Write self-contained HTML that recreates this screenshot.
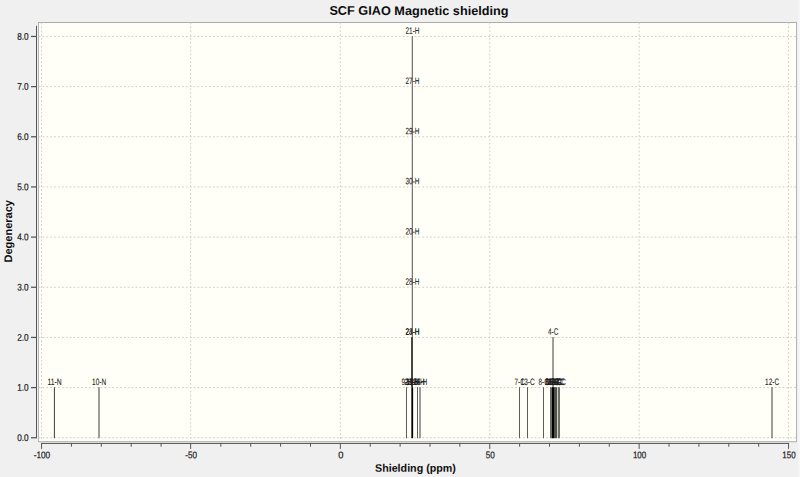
<!DOCTYPE html>
<html><head><meta charset="utf-8"><title>SCF GIAO Magnetic shielding</title>
<style>
html,body{margin:0;padding:0;background:#f0f0f0;}
body{width:800px;height:477px;overflow:hidden;font-family:"Liberation Sans",sans-serif;}
svg{display:block}
text{font-family:"Liberation Sans",sans-serif;text-rendering:geometricPrecision;}
.t{font-size:9.7px;fill:#1c1c1c;stroke:#1c1c1c;stroke-width:0.22px}
.l{font-size:9.2px;fill:#1c1c1c;stroke:#1c1c1c;stroke-width:0.1px}
.b{font-weight:bold;fill:#0c0c0c}
</style></head><body>
<svg width="800" height="477" viewBox="0 0 800 477">
<rect x="0" y="0" width="800" height="477" fill="#f0f0f0"/>
<rect x="798.3" y="0" width="1.7" height="477" fill="#f6f6f6"/>
<rect x="38" y="22" width="759" height="420" fill="#a9adb2"/>
<rect x="38" y="441" width="759" height="1" fill="#b9bdc3"/>
<rect x="796" y="22" width="1" height="420" fill="#b2b6bc"/>
<rect x="38" y="23" width="1" height="418" fill="#b0b4b9"/>
<rect x="39" y="23" width="757" height="418" fill="#fffff7"/>
<rect x="38" y="442" width="759" height="1" fill="#e2e2e2"/>

<g stroke="#d0d0ca" stroke-width="1" stroke-dasharray="1.85 2.0248">
<line x1="38.6" y1="437.75" x2="796" y2="437.75"/>
<line x1="38.6" y1="387.59" x2="796" y2="387.59"/>
<line x1="38.6" y1="337.43" x2="796" y2="337.43"/>
<line x1="38.6" y1="287.26" x2="796" y2="287.26"/>
<line x1="38.6" y1="237.10" x2="796" y2="237.10"/>
<line x1="38.6" y1="186.94" x2="796" y2="186.94"/>
<line x1="38.6" y1="136.77" x2="796" y2="136.77"/>
<line x1="38.6" y1="86.61" x2="796" y2="86.61"/>
<line x1="38.6" y1="36.45" x2="796" y2="36.45"/>
<line x1="41.55" y1="22.6" x2="41.55" y2="441"/>
<line x1="190.65" y1="22.6" x2="190.65" y2="441"/>
<line x1="340.35" y1="22.6" x2="340.35" y2="441"/>
<line x1="489.75" y1="22.6" x2="489.75" y2="441"/>
<line x1="639.15" y1="22.6" x2="639.15" y2="441"/>
<line x1="788.55" y1="22.6" x2="788.55" y2="441"/>
</g>
<g stroke="#555555" stroke-width="1">
<line x1="36.5" y1="25.8" x2="36.5" y2="438.2"/>
<line x1="31" y1="437.75" x2="36.5" y2="437.75" stroke-width="1.25"/>
<line x1="31" y1="387.59" x2="36.5" y2="387.59" stroke-width="1.25"/>
<line x1="31" y1="337.43" x2="36.5" y2="337.43" stroke-width="1.25"/>
<line x1="31" y1="287.26" x2="36.5" y2="287.26" stroke-width="1.25"/>
<line x1="31" y1="237.10" x2="36.5" y2="237.10" stroke-width="1.25"/>
<line x1="31" y1="186.94" x2="36.5" y2="186.94" stroke-width="1.25"/>
<line x1="31" y1="136.77" x2="36.5" y2="136.77" stroke-width="1.25"/>
<line x1="31" y1="86.61" x2="36.5" y2="86.61" stroke-width="1.25"/>
<line x1="31" y1="36.45" x2="36.5" y2="36.45" stroke-width="1.25"/>
<line x1="41.1" y1="443.45" x2="789.05" y2="443.45"/>
<line x1="41.55" y1="443" x2="41.55" y2="448.9"/>
<line x1="71.43" y1="443" x2="71.43" y2="446.7"/>
<line x1="101.31" y1="443" x2="101.31" y2="446.7"/>
<line x1="131.19" y1="443" x2="131.19" y2="446.7"/>
<line x1="161.07" y1="443" x2="161.07" y2="446.7"/>
<line x1="190.65" y1="443" x2="190.65" y2="448.9"/>
<line x1="220.83" y1="443" x2="220.83" y2="446.7"/>
<line x1="250.71" y1="443" x2="250.71" y2="446.7"/>
<line x1="280.59" y1="443" x2="280.59" y2="446.7"/>
<line x1="310.47" y1="443" x2="310.47" y2="446.7"/>
<line x1="340.35" y1="443" x2="340.35" y2="448.9"/>
<line x1="370.23" y1="443" x2="370.23" y2="446.7"/>
<line x1="400.11" y1="443" x2="400.11" y2="446.7"/>
<line x1="429.99" y1="443" x2="429.99" y2="446.7"/>
<line x1="459.87" y1="443" x2="459.87" y2="446.7"/>
<line x1="489.75" y1="443" x2="489.75" y2="448.9"/>
<line x1="519.63" y1="443" x2="519.63" y2="446.7"/>
<line x1="549.51" y1="443" x2="549.51" y2="446.7"/>
<line x1="579.39" y1="443" x2="579.39" y2="446.7"/>
<line x1="609.27" y1="443" x2="609.27" y2="446.7"/>
<line x1="639.15" y1="443" x2="639.15" y2="448.9"/>
<line x1="669.03" y1="443" x2="669.03" y2="446.7"/>
<line x1="698.91" y1="443" x2="698.91" y2="446.7"/>
<line x1="728.79" y1="443" x2="728.79" y2="446.7"/>
<line x1="758.67" y1="443" x2="758.67" y2="446.7"/>
<line x1="788.55" y1="443" x2="788.55" y2="448.9"/>
</g>
<g transform="matrix(0.8454 0.0005 0 1 28.60 441.00)"><text class="t" text-anchor="end">0.0</text></g>
<g transform="matrix(0.8454 0.0005 0 1 28.60 390.84)"><text class="t" text-anchor="end">1.0</text></g>
<g transform="matrix(0.8454 0.0005 0 1 28.60 340.68)"><text class="t" text-anchor="end">2.0</text></g>
<g transform="matrix(0.8454 0.0005 0 1 28.60 290.51)"><text class="t" text-anchor="end">3.0</text></g>
<g transform="matrix(0.8454 0.0005 0 1 28.60 240.35)"><text class="t" text-anchor="end">4.0</text></g>
<g transform="matrix(0.8454 0.0005 0 1 28.60 190.19)"><text class="t" text-anchor="end">5.0</text></g>
<g transform="matrix(0.8454 0.0005 0 1 28.60 140.02)"><text class="t" text-anchor="end">6.0</text></g>
<g transform="matrix(0.8454 0.0005 0 1 28.60 89.86)"><text class="t" text-anchor="end">7.0</text></g>
<g transform="matrix(0.8454 0.0005 0 1 28.60 39.70)"><text class="t" text-anchor="end">8.0</text></g>
<g transform="matrix(0.8499 0.0005 0 1 41.95 458.30)"><text class="t" text-anchor="middle">-100</text></g>
<g transform="matrix(0.8345 0.0005 0 1 191.05 458.30)"><text class="t" text-anchor="middle">-50</text></g>
<g transform="matrix(0.9639 0.0005 0 1 340.75 458.30)"><text class="t" text-anchor="middle">0</text></g>
<g transform="matrix(0.8341 0.0005 0 1 490.15 458.30)"><text class="t" text-anchor="middle">50</text></g>
<g transform="matrix(0.8218 0.0005 0 1 639.55 458.30)"><text class="t" text-anchor="middle">100</text></g>
<g transform="matrix(0.8218 0.0005 0 1 788.95 458.30)"><text class="t" text-anchor="middle">150</text></g>
<g transform="matrix(1.0158 0.0005 0 1 329.40 14.85)"><text class="b" font-size="12.5">SCF GIAO Magnetic shielding</text></g>
<g transform="matrix(0.9836 0.0005 0 1 375.00 471.75)"><text class="b" font-size="10.9">Shielding (ppm)</text></g>
<g transform="matrix(0 -1.0000 1 0.0005 11.95 231.30)"><text class="b" text-anchor="middle" font-size="11">Degeneracy</text></g>
<g stroke="#3c3c3c" stroke-width="1">
<line x1="54.4" y1="387.19" x2="54.4" y2="438.2"/>
<line x1="99.0" y1="387.19" x2="99.0" y2="438.2"/>
<line x1="406.5" y1="387.19" x2="406.5" y2="438.2" stroke="#5c5c5a"/>
<line x1="417.5" y1="387.19" x2="417.5" y2="438.2" stroke="#5c5c5a"/>
<line x1="420.0" y1="387.19" x2="420.0" y2="438.2"/>
<line x1="519.5" y1="387.19" x2="519.5" y2="438.2" stroke="#5c5c5a"/>
<line x1="527.5" y1="387.19" x2="527.5" y2="438.2" stroke="#5c5c5a"/>
<line x1="543.5" y1="387.19" x2="543.5" y2="438.2" stroke="#5c5c5a"/>
<line x1="772.0" y1="387.19" x2="772.0" y2="438.2"/>
<line x1="553.0" y1="337.03" x2="553.0" y2="438.2"/>
</g>
<rect x="411" y="36.05" width="1" height="300.98" fill="#d8d8d0"/>
<rect x="412" y="36.05" width="1" height="300.98" fill="#787874"/>
<rect x="411" y="337.03" width="1" height="50.16" fill="#484846"/>
<rect x="412" y="337.03" width="1" height="50.16" fill="#444442"/>
<rect x="411" y="387.19" width="1" height="51.01" fill="#555553"/>
<rect x="412" y="387.19" width="1" height="51.01" fill="#000"/>
<rect x="413" y="387.19" width="1" height="51.01" fill="#ddddd6"/>
<rect x="550" y="387.19" width="1" height="51.01" fill="#6b6b67"/>
<rect x="551" y="387.19" width="1" height="51.01" fill="#6b6b67"/>
<rect x="552" y="387.19" width="1" height="51.01" fill="#000"/>
<rect x="553" y="387.19" width="1" height="51.01" fill="#000"/>
<rect x="554" y="387.19" width="1" height="51.01" fill="#50504a"/>
<rect x="555" y="387.19" width="1" height="51.01" fill="#50504a"/>
<rect x="556" y="387.19" width="1" height="51.01" fill="#52524c"/>
<rect x="557" y="387.19" width="1" height="51.01" fill="#cfcfc8"/>
<rect x="558" y="387.19" width="1" height="51.01" fill="#70706b"/>
<rect x="559" y="387.19" width="1" height="51.01" fill="#70706b"/>
<g transform="matrix(0.7322 0.0005 0 1 54.50 384.99)"><text class="l" text-anchor="middle">11-N</text></g>
<g transform="matrix(0.7071 0.0005 0 1 99.10 384.99)"><text class="l" text-anchor="middle">10-N</text></g>
<g transform="matrix(0.6948 0.0005 0 1 406.60 384.99)"><text class="l" text-anchor="middle">9-H</text></g>
<g transform="matrix(0.7071 0.0005 0 1 417.60 384.99)"><text class="l" text-anchor="middle">25-H</text></g>
<g transform="matrix(0.7071 0.0005 0 1 420.10 384.99)"><text class="l" text-anchor="middle">26-H</text></g>
<g transform="matrix(0.6948 0.0005 0 1 519.60 384.99)"><text class="l" text-anchor="middle">7-C</text></g>
<g transform="matrix(0.7071 0.0005 0 1 527.60 384.99)"><text class="l" text-anchor="middle">13-C</text></g>
<g transform="matrix(0.6948 0.0005 0 1 543.60 384.99)"><text class="l" text-anchor="middle">8-C</text></g>
<g transform="matrix(0.7071 0.0005 0 1 772.10 384.99)"><text class="l" text-anchor="middle">12-C</text></g>
<g transform="matrix(0.6948 0.0005 0 1 553.10 334.82)"><text class="l" text-anchor="middle">4-C</text></g>
<g transform="matrix(0.7071 0.0005 0 1 412.50 33.85)"><text class="l" text-anchor="middle">21-H</text></g>
<g transform="matrix(0.7071 0.0005 0 1 412.50 84.01)"><text class="l" text-anchor="middle">27-H</text></g>
<g transform="matrix(0.7071 0.0005 0 1 412.50 134.17)"><text class="l" text-anchor="middle">29-H</text></g>
<g transform="matrix(0.7071 0.0005 0 1 412.50 184.34)"><text class="l" text-anchor="middle">30-H</text></g>
<g transform="matrix(0.7071 0.0005 0 1 412.50 234.50)"><text class="l" text-anchor="middle">20-H</text></g>
<g transform="matrix(0.7071 0.0005 0 1 412.50 284.66)"><text class="l" text-anchor="middle">28-H</text></g>
<g transform="matrix(0.7071 0.0005 0 1 412.50 334.82)"><text class="l" text-anchor="middle">24-H</text></g>
<g transform="matrix(0.7071 0.0005 0 1 412.50 334.82)"><text class="l" text-anchor="middle">23-H</text></g>
<g transform="matrix(0.7071 0.0005 0 1 411.50 384.99)"><text class="l" text-anchor="middle">22-H</text></g>
<g transform="matrix(0.7071 0.0005 0 1 412.50 384.99)"><text class="l" text-anchor="middle">31-H</text></g>
<g transform="matrix(0.7071 0.0005 0 1 413.00 384.99)"><text class="l" text-anchor="middle">19-H</text></g>
<g transform="matrix(0.6948 0.0005 0 1 550.50 384.99)"><text class="l" text-anchor="middle">6-C</text></g>
<g transform="matrix(0.7071 0.0005 0 1 551.50 384.99)"><text class="l" text-anchor="middle">14-C</text></g>
<g transform="matrix(0.7071 0.0005 0 1 552.50 384.99)"><text class="l" text-anchor="middle">15-C</text></g>
<g transform="matrix(0.7071 0.0005 0 1 553.50 384.99)"><text class="l" text-anchor="middle">16-C</text></g>
<g transform="matrix(0.7071 0.0005 0 1 554.50 384.99)"><text class="l" text-anchor="middle">17-C</text></g>
<g transform="matrix(0.7071 0.0005 0 1 555.50 384.99)"><text class="l" text-anchor="middle">18-C</text></g>
<g transform="matrix(0.6948 0.0005 0 1 556.50 384.99)"><text class="l" text-anchor="middle">3-C</text></g>
<g transform="matrix(0.6948 0.0005 0 1 559.30 384.99)"><text class="l" text-anchor="middle">5-C</text></g>
<g transform="matrix(0.6948 0.0005 0 1 560.60 384.99)"><text class="l" text-anchor="middle">2-C</text></g>
</svg></body></html>
